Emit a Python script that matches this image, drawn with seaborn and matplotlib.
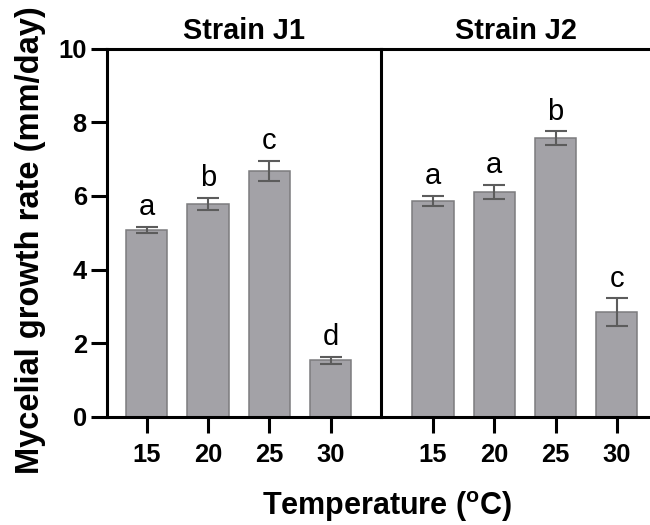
import matplotlib
matplotlib.use("Agg")
import matplotlib.pyplot as plt
import seaborn as sns
import pandas as pd
import numpy as np

# ---- data ----
temperatures = ["15", "20", "25", "30"]
strains = ["Strain J1", "Strain J2"]
j1_rate = [5.07, 5.78, 6.68, 1.54]
j1_err = [0.08, 0.17, 0.27, 0.10]
j1_letters = ["a", "b", "c", "d"]
j2_rate = [5.86, 6.11, 7.57, 2.84]
j2_err = [0.13, 0.19, 0.18, 0.38]
j2_letters = ["a", "a", "b", "c"]
y_ticks = [0, 2, 4, 6, 8, 10]

sns.set_style("ticks")
plt.rcParams["font.family"] = ["Liberation Sans", "DejaVu Sans"]
plt.rcParams["mathtext.fontset"] = "custom"
plt.rcParams["mathtext.rm"] = "Liberation Sans:bold"
plt.rcParams["mathtext.bf"] = "Liberation Sans:bold"
for k in ["text.color", "axes.labelcolor", "xtick.color", "ytick.color",
          "axes.edgecolor"]:
    plt.rcParams[k] = "black"

BAR = "#a3a2a7"
EDGE = "#7c7c7e"
ERR = "#5c5c5c"
LW = 2.2

fig = plt.figure(figsize=(6.5, 5.25), dpi=100)
L, R = 107 / 650, 1.0
B, T = 1 - 417 / 525, 1 - 48.5 / 525
mid = 381 / 650
ax1 = fig.add_axes([L, B, mid - L, T - B])
ax2 = fig.add_axes([mid, B, R - mid, T - B])
ax2.set_facecolor("none")

datasets = [
    (ax1, j1_rate, j1_err, j1_letters, (-0.647, 3.82)),
    (ax2, j2_rate, j2_err, j2_letters, (-0.848, 3.54)),
]
for (ax, rate, err, letters, xl), title in zip(datasets, strains):
    df = pd.DataFrame({"temp": temperatures, "rate": rate, "err": err})
    sns.barplot(data=df, x="temp", y="rate", ax=ax, color=BAR, width=0.67,
                edgecolor=EDGE, linewidth=1.1, errorbar=None, saturation=1)
    xs = [p.get_x() + p.get_width() / 2 for p in ax.patches]
    ax.errorbar(xs, df["rate"], yerr=df["err"], fmt="none", ecolor=ERR,
                elinewidth=1.5, capsize=8, capthick=1.5, zorder=3)
    for x, v, e, s in zip(xs, df["rate"], df["err"], letters):
        ax.annotate(s, (x, v + e), xytext=(0, 8.5), textcoords="offset points",
                    ha="center", va="baseline", fontsize=21, color="black")
    ax.set_xlim(*xl)
    ax.set_ylim(0, 10)
    ax.set_xlabel("")
    ax.set_ylabel("")
    ax.set_title(title, fontsize=20.8, fontweight="bold", pad=6.6,
                 color="black")
    ax.tick_params(axis="x", length=11.5, width=LW, pad=7.5, labelsize=18.4,
                   color="black", labelcolor="black")
    for lab in ax.get_xticklabels():
        lab.set_fontweight("bold")
    for sp in ax.spines.values():
        sp.set_linewidth(LW)
        sp.set_color("black")
        sp.set_visible(True)

ax1.set_yticks(y_ticks)
ax1.set_yticklabels([str(t) for t in y_ticks], fontweight="bold")
ax1.tick_params(axis="y", length=11.5, width=LW, pad=3, labelsize=18.4,
                color="black", labelcolor="black")
ax1.spines["right"].set_zorder(5)
ax2.set_yticks([])
ax2.spines["left"].set_visible(False)
ax2.spines["right"].set_visible(False)

fig.text(31 / 650, 1 - 240.5 / 525, "Mycelial growth rate (mm/day)",
         rotation=90, ha="center", va="center", fontsize=23.5,
         fontweight="bold", color="black")
fig.text(261.7 / 650, 1 - 515 / 525, r"Temperature ($^{\mathrm{o}}$C)",
         ha="left", va="baseline", fontsize=22, fontweight="bold",
         color="black")

fig.savefig("out.png", dpi=100)
